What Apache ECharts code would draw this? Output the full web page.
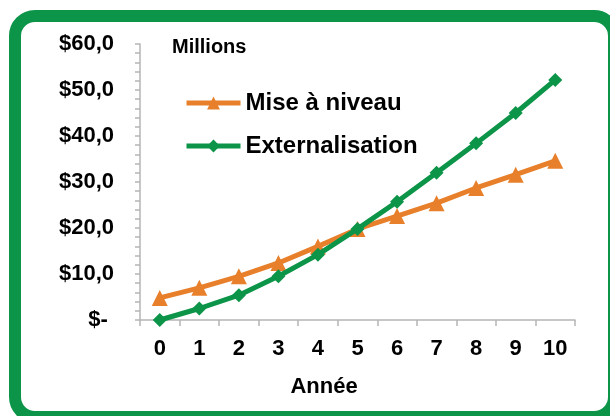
<!DOCTYPE html>
<html>
<head>
<meta charset="utf-8">
<script src="https://cdn.jsdelivr.net/npm/echarts@6/dist/echarts.min.js"></script>
<style>
  html, body { margin: 0; padding: 0; background: #ffffff; }
  #chart { width: 610px; height: 416px; }
</style>
</head>
<body>
<div id="chart"></div>
<script>
// Years on the horizontal axis
const years = ['0', '1', '2', '3', '4', '5', '6', '7', '8', '9', '10'];
// Cumulative cost, millions of dollars
const miseANiveau = [4.8, 7.0, 9.5, 12.4, 16.0, 19.8, 22.6, 25.4, 28.7, 31.6, 34.6];
const externalisation = [0, 2.5, 5.4, 9.5, 14.2, 19.8, 25.7, 32.0, 38.4, 45.0, 52.2];
const seriesNames = ['Mise à niveau', 'Externalisation'];

const ORANGE = '#e8802b';
const GREEN = '#0c9448';
const AXIS_GREY = '#b5b5b5';
const FONT = '"Liberation Sans", Arial, sans-serif';

function moneyLabel(v) {
  if (v === 0) return '$- ';
  return '$' + v.toFixed(1).replace('.', ',');
}

const chart = echarts.init(document.getElementById('chart'), null, { renderer: 'canvas' });

chart.setOption({
  backgroundColor: '#ffffff',
  animation: false,
  graphic: [
    {
      type: 'rect',
      z: -10,
      shape: { x: 15, y: 16, width: 599, height: 401, r: 20 },
      style: { fill: '#ffffff', stroke: GREEN, lineWidth: 12 }
    },
    {
      type: 'text',
      x: 172,
      y: 47,
      style: {
        text: 'Millions', font: 'bold 20px ' + FONT, fill: '#000000',
        align: 'left', verticalAlign: 'middle'
      }
    },
    {
      type: 'text',
      x: 324,
      y: 387,
      style: {
        text: 'Année', font: 'bold 22px ' + FONT, fill: '#000000',
        align: 'center', verticalAlign: 'middle'
      }
    }
  ],
  grid: { left: 140, right: 35, top: 44, bottom: 96, containLabel: false },
  legend: {
    orient: 'vertical',
    left: 184,
    top: 90,
    padding: 0,
    itemWidth: 54,
    itemHeight: 16,
    itemGap: 17,
    data: seriesNames,
    lineStyle: { width: 5 },
    textStyle: { fontFamily: FONT, fontWeight: 'bold', fontSize: 24, color: '#000000', lineHeight: 26, padding: [0, 0, 0, 0] }
  },
  xAxis: {
    type: 'category',
    data: years,
    boundaryGap: true,
    axisLine: { lineStyle: { color: AXIS_GREY, width: 1.5 } },
    axisTick: { show: true, length: 6, lineStyle: { color: AXIS_GREY, width: 1.5 } },
    axisLabel: { color: '#000000', fontFamily: FONT, fontWeight: 'bold', fontSize: 22, margin: 18 }
  },
  yAxis: {
    type: 'value',
    min: 0,
    max: 60,
    interval: 10,
    axisLine: { show: true, lineStyle: { color: AXIS_GREY, width: 1.5 } },
    axisTick: { show: true, length: 5, lineStyle: { color: AXIS_GREY, width: 1.5 } },
    minorTick: { show: true, splitNumber: 5, length: 5, lineStyle: { color: AXIS_GREY, width: 1.5 } },
    splitLine: { show: false },
    axisLabel: {
      color: '#000000', fontFamily: FONT, fontWeight: 'bold', fontSize: 22, margin: 26,
      formatter: moneyLabel
    }
  },
  series: [
    {
      name: seriesNames[0],
      type: 'line',
      data: miseANiveau,
      symbol: 'triangle',
      symbolSize: 16,
      lineStyle: { color: ORANGE, width: 5 },
      itemStyle: { color: ORANGE },
      z: 2
    },
    {
      name: seriesNames[1],
      type: 'line',
      data: externalisation,
      symbol: 'diamond',
      symbolSize: 14,
      lineStyle: { color: GREEN, width: 5 },
      itemStyle: { color: GREEN },
      z: 3
    }
  ]
});
</script>
</body>
</html>
